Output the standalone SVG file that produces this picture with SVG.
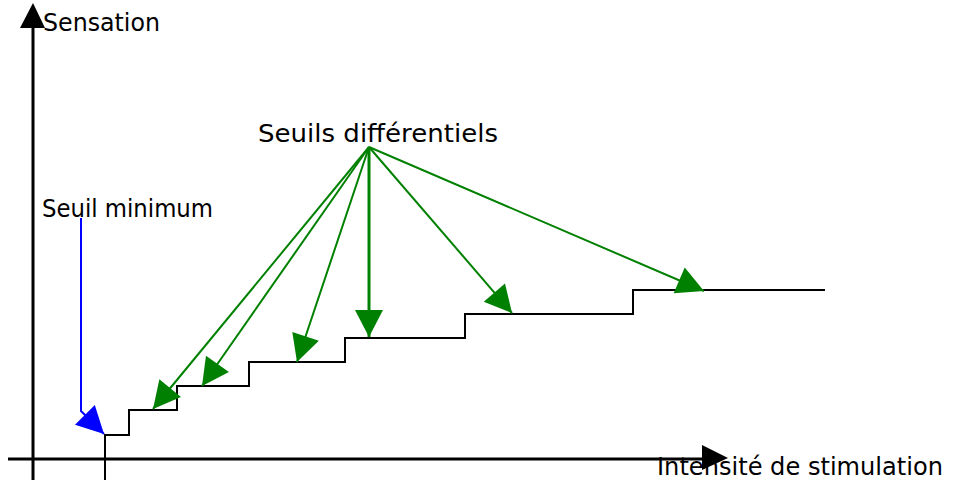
<svg xmlns="http://www.w3.org/2000/svg" width="963" height="481" viewBox="0 0 963 481">
<style>
text{font-family:"DejaVu Sans","Liberation Sans",sans-serif;font-size:24px;fill:#000}
.g{stroke:#008000;stroke-width:2;fill:none;marker-end:url(#ga)}
.axis{stroke:#000;stroke-width:3;fill:none}
</style>
<defs>
<marker id="ga" markerUnits="userSpaceOnUse" markerWidth="28" markerHeight="28" refX="27" refY="14" orient="auto" overflow="visible"><path d="M0,0 L27,14 L0,28 z" fill="#008000"/></marker>
<marker id="ba" markerUnits="userSpaceOnUse" markerWidth="28" markerHeight="28" refX="27" refY="14" orient="auto" overflow="visible"><path d="M0,0 L27,14 L0,28 z" fill="#0000ff"/></marker>
</defs>
<g id="axes">
<line class="axis" x1="33" y1="480" x2="33" y2="26"/>
<polygon points="33,3 20,28 45,28" fill="#000"/>
<line class="axis" x1="8" y1="459" x2="704" y2="459"/>
<polygon points="728,458 702,445 702,470" fill="#000"/>
</g>
<g id="staircase">
<polyline points="105,480 105,435 129,435 129,410 177,410 177,386 249,386 249,362 345,362 345,338 465,338 465,314 633,314 633,290 825,290" fill="none" stroke="#000" stroke-width="2"/>
</g>
<g id="labels">
<text x="43" y="31" textLength="117" lengthAdjust="spacingAndGlyphs">Sensation</text>
<text x="42" y="217" textLength="171" lengthAdjust="spacingAndGlyphs">Seuil minimum</text>
<text x="258" y="142" textLength="240" lengthAdjust="spacingAndGlyphs">Seuils différentiels</text>
<text x="657" y="475" textLength="286" lengthAdjust="spacingAndGlyphs">Intensité de stimulation</text>
</g>
<g id="connectors">
<polyline points="81,218 81,411 104,434" fill="none" stroke="#0000ff" stroke-width="2" marker-end="url(#ba)"/>
<line class="g" x1="369" y1="147" x2="153" y2="409"/>
<line class="g" x1="369" y1="147" x2="202" y2="386"/>
<line class="g" x1="369" y1="147" x2="297" y2="362"/>
<line class="g" x1="369" y1="147" x2="369" y2="337" style="stroke-width:3"/>
<line class="g" x1="369" y1="147" x2="512" y2="313"/>
<line class="g" x1="369" y1="147" x2="704" y2="291"/>
</g>
</svg>
